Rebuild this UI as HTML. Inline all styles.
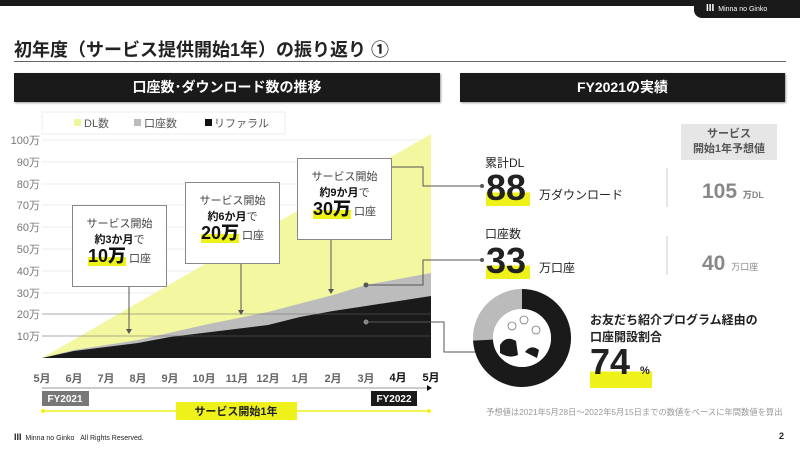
<!DOCTYPE html>
<html><head><meta charset="utf-8"><style>
*{margin:0;padding:0;box-sizing:border-box}
body{width:800px;height:450px;overflow:hidden;background:#fff;font-family:"Liberation Sans","Noto Sans CJK JP",sans-serif;position:relative;color:#222}
.a{position:absolute;white-space:nowrap}
.hdr{position:absolute;background:#1a1a1a;color:#fff;font-weight:bold;font-size:14px;text-align:center;line-height:28px;box-shadow:1px 1px 2px #999}
.cb{position:absolute;background:#fff;border:1px solid #888;text-align:center;font-size:11px;color:#444;line-height:16px;padding-top:10px}
.cb b{color:#111}
.big{font-weight:900;font-size:18px;color:#111;background:linear-gradient(transparent 55%,#eef21a 55%)}
</style></head><body>
<div class="a" style="left:0;top:0;width:800px;height:6px;background:#1a1a1a"></div>
<div class="a" style="left:694px;top:0;width:106px;height:18px;background:#1a1a1a;border-bottom-left-radius:8px;color:#fff;font-size:7px;line-height:18px;padding-left:12px"><b style="font-size:10px">III</b>&nbsp; Minna no Ginko</div>
<div class="a" style="left:14px;top:36px;font-size:18px;font-weight:bold;color:#222">初年度（サービス提供開始1年）の振り返り ①</div>
<div class="a" style="left:14px;top:61px;width:772px;height:1px;background:#666"></div>
<div class="hdr" style="left:14px;top:73px;width:426px;height:29px">口座数･ダウンロード数の推移</div>
<div class="hdr" style="left:460px;top:73px;width:325px;height:29px">FY2021の実績</div>

<svg class="a" style="left:0;top:0" width="800" height="450">
<rect x="42" y="112" width="243" height="22" fill="#fff" stroke="#eee"/>
<rect x="74" y="119" width="7" height="7" fill="#f0f59a"/>
<rect x="134" y="119" width="7" height="7" fill="#bbb"/>
<rect x="205" y="119" width="7" height="7" fill="#111"/>
<text x="84" y="127" font-size="11" fill="#555">DL数</text>
<text x="144" y="127" font-size="11" fill="#555">口座数</text>
<text x="214" y="127" font-size="11" fill="#555">リファラル</text>
<g stroke="#eee" stroke-width="1">
<line x1="42" x2="431" y1="140" y2="140"/><line x1="42" x2="431" y1="162" y2="162"/><line x1="42" x2="431" y1="184" y2="184"/><line x1="42" x2="431" y1="205" y2="205"/><line x1="42" x2="431" y1="227" y2="227"/><line x1="42" x2="431" y1="249" y2="249"/><line x1="42" x2="431" y1="271" y2="271"/><line x1="42" x2="431" y1="293" y2="293"/><line x1="42" x2="431" y1="314" y2="314"/><line x1="42" x2="431" y1="336" y2="336"/>
</g>
<g font-size="11" fill="#777" text-anchor="end">
<text x="40" y="144">100万</text><text x="40" y="166">90万</text><text x="40" y="188">80万</text><text x="40" y="209">70万</text><text x="40" y="231">60万</text><text x="40" y="253">50万</text><text x="40" y="275">40万</text><text x="40" y="297">30万</text><text x="40" y="318">20万</text><text x="40" y="340">10万</text>
</g>
<polygon points="42,358 431,134 431,358" fill="#f3f7a0"/>
<polygon points="42,358 74,350 138,340 204,325 268,312 333,295 366,285 431,273 431,358" fill="#bcbcbc"/>
<polygon points="42,358 74,351 138,343 170,337 268,325 300,317 333,311 366,306 431,296 431,358" fill="#1a1a1a"/>
<line x1="42" x2="431" y1="336" y2="336" stroke="#666" stroke-width="0.6"/>
<line x1="42" x2="431" y1="314" y2="314" stroke="#666" stroke-width="0.6"/>
<g stroke="#555" stroke-width="1" fill="none">
<line x1="129" y1="286" x2="129" y2="330"/><line x1="241" y1="263" x2="241" y2="311"/><line x1="331" y1="239" x2="331" y2="290"/>
<polyline points="366,167 423,167 423,186 482,186"/>
<polyline points="366,285 423,285 423,260 482,260"/>
<polyline points="366,322 444,322 444,352 478,352"/>
</g>
<g fill="#555"><path d="M126,329 L132,329 L129,334Z"/><path d="M238,310 L244,310 L241,315Z"/><path d="M328,289 L334,289 L331,294Z"/>
<circle cx="366" cy="167" r="2.5" fill="#ccc"/><circle cx="366" cy="285" r="2.5"/><circle cx="366" cy="322" r="2.5" fill="#888"/><circle cx="482" cy="186" r="2"/><circle cx="482" cy="260" r="2"/><circle cx="478" cy="352" r="2"/></g>
<g font-size="11" font-weight="bold" fill="#666" text-anchor="middle">
<text x="42" y="382">5月</text><text x="74" y="382">6月</text><text x="106" y="382">7月</text><text x="138" y="382">8月</text><text x="170" y="382">9月</text><text x="204" y="382">10月</text><text x="237" y="382">11月</text><text x="268" y="382">12月</text><text x="300" y="382">1月</text><text x="333" y="382">2月</text><text x="366" y="382">3月</text><text x="398" y="381" fill="#111">4月</text><text x="431" y="381" fill="#111">5月</text>
</g>
<line x1="42" x2="428" y1="388" y2="388" stroke="#999"/><path d="M427,385 L432,388 L427,391Z" fill="#111"/>
<rect x="42" y="391" width="47" height="15" fill="#777"/><text x="65" y="402" font-size="10" font-weight="bold" fill="#fff" text-anchor="middle">FY2021</text>
<rect x="371" y="391" width="46" height="15" fill="#1a1a1a"/><text x="394" y="402" font-size="10" font-weight="bold" fill="#fff" text-anchor="middle">FY2022</text>
<line x1="43" x2="429" y1="411" y2="411" stroke="#eef21a" stroke-width="1.5"/><circle cx="43" cy="411" r="2" fill="#eef21a"/><circle cx="429" cy="411" r="2" fill="#eef21a"/>
<rect x="176" y="402" width="121" height="18" fill="#eef21a"/><text x="236" y="415" font-size="11" font-weight="bold" fill="#222" text-anchor="middle">サービス開始1年</text>
<line x1="667" x2="667" y1="168" y2="207" stroke="#ccc"/><line x1="667" x2="667" y1="236" y2="275" stroke="#ccc"/>
<circle cx="522" cy="338" r="39" fill="none" stroke="#bbb" stroke-width="20"/>
<circle cx="522" cy="338" r="39" fill="none" stroke="#1a1a1a" stroke-width="20" stroke-dasharray="181.3 300" transform="rotate(-90 522 338)"/>
<circle cx="522" cy="338" r="29" fill="#fff"/>
<path d="M500,345 q6,-10 16,-4 l2,14 q-8,4 -18,-2z M525,352 q6,-8 14,-2 l-2,8z" fill="#1a1a1a"/>
<g stroke="#777" fill="none" stroke-width="0.8"><circle cx="512" cy="326" r="4"/><circle cx="524" cy="320" r="4"/><circle cx="536" cy="330" r="4"/></g>
</svg>

<div class="cb" style="left:72px;top:205px;width:95px;height:82px">サービス開始<br><b>約3か月</b>で<br><span class="big">10万</span> 口座</div>
<div class="cb" style="left:185px;top:182px;width:95px;height:82px">サービス開始<br><b>約6か月</b>で<br><span class="big">20万</span> 口座</div>
<div class="cb" style="left:297px;top:158px;width:95px;height:82px">サービス開始<br><b>約9か月</b>で<br><span class="big">30万</span> 口座</div>

<div class="a" style="left:485px;top:154px;font-size:12px">累計DL</div>
<div class="a" style="left:486px;top:170px;font-size:36px;font-weight:900;line-height:36px;background:linear-gradient(transparent 62%,#eef21a 62%);padding-right:4px">88</div>
<div class="a" style="left:539px;top:186px;font-size:12px">万ダウンロード</div>
<div class="a" style="left:681px;top:124px;width:96px;height:36px;background:#e6e6e6;font-size:11px;font-weight:bold;color:#555;text-align:center;line-height:15px;padding-top:3px">サービス<br>開始1年予想値</div>
<div class="a" style="left:702px;top:180px;font-size:21px;font-weight:900;color:#888">105 <span style="font-size:9px">万DL</span></div>
<div class="a" style="left:485px;top:225px;font-size:12px">口座数</div>
<div class="a" style="left:486px;top:243px;font-size:36px;font-weight:900;line-height:36px;background:linear-gradient(transparent 62%,#eef21a 62%);padding-right:4px">33</div>
<div class="a" style="left:539px;top:259px;font-size:12px">万口座</div>
<div class="a" style="left:702px;top:252px;font-size:21px;font-weight:900;color:#888">40 <span style="font-size:9px;font-weight:normal">万口座</span></div>
<div class="a" style="left:590px;top:312px;font-size:12px;font-weight:bold;line-height:17px">お友だち紹介プログラム経由の<br>口座開設割合</div>
<div class="a" style="left:590px;top:345px;font-size:36px;font-weight:900;line-height:34px;background:linear-gradient(transparent 62%,#eef21a 62%);padding-right:2px">74 <span style="font-size:11px">%</span></div>
<div class="a" style="left:486px;top:406px;font-size:8.3px;color:#999">予想値は2021年5月28日～2022年5月15日までの数値をベースに年間数値を算出</div>
<div class="a" style="left:14px;top:432px;font-size:7px;color:#222"><b style="font-size:9px">III</b>&nbsp; Minna no Ginko &nbsp;&nbsp;All Rights Reserved.</div>
<div class="a" style="left:779px;top:431px;font-size:9px;font-weight:bold">2</div>
</body></html>
